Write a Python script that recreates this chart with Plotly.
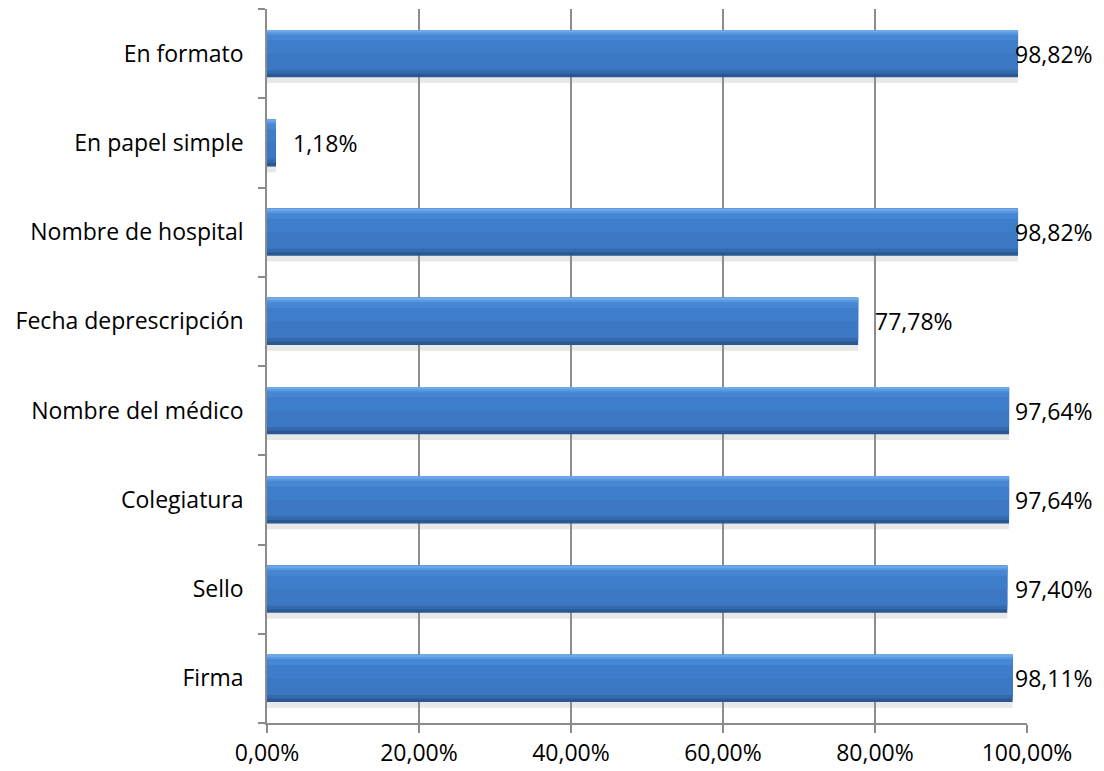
import plotly.graph_objects as go

# Categories listed bottom to top
categories = ["Firma", "Sello", "Colegiatura", "Nombre del médico",
              "Fecha deprescripción", "Nombre de hospital",
              "En papel simple", "En formato"]
values = [98.11, 97.40, 97.64, 97.64, 77.78, 98.82, 1.18, 98.82]
x_ticks = [0, 20, 40, 60, 80, 100]
x_tick_labels = ["0,00%", "20,00%", "40,00%", "60,00%", "80,00%", "100,00%"]

FONT = "Open Sans"
GRID = "#8c8c8c"

fig = go.Figure()

# Layered bars give the bevelled, shaded look: (width, offset, colour)
layers = [
    (0.075, -0.33, "rgba(150,150,150,0.22)"),   # soft shadow below
    (0.53, -0.265, "#2a5893"),                  # dark lower edge
    (0.49, -0.225, "#3469ad"),
    (0.45, -0.185, "#3b77c2"),                  # body
    (0.25, 0.0, "#3e7dc9"),
    (0.10, 0.15, "#4687d3"),
    (0.05, 0.215, "#5998e0"),                   # highlight band
    (0.025, 0.24, "#6eaaea"),                   # top edge
]
for w, off, col in layers:
    fig.add_trace(go.Bar(
        y=categories, x=values, orientation="h",
        width=w, offset=off,
        marker=dict(color=col, line=dict(width=0)),
        hoverinfo="skip", showlegend=False,
    ))

# Value labels: just past the bar end, pulled inside the figure when near 100%
annotations = []
for cat, v in zip(categories, values):
    label = f"{v:.2f}%".replace(".", ",")
    if v > 90:
        annotations.append(dict(x=1.0895, xref="paper", y=cat, yref="y",
                                text=label, showarrow=False, xanchor="right",
                                font=dict(family=FONT, size=23, color="black")))
    else:
        annotations.append(dict(x=v, xref="x", y=cat, yref="y", text=label,
                                showarrow=False, xanchor="left", xshift=15,
                                font=dict(family=FONT, size=23, color="black")))

fig.update_layout(
    width=1104, height=771,
    margin=dict(l=267, r=77, t=9, b=48, autoexpand=False),
    paper_bgcolor="white", plot_bgcolor="white",
    barmode="overlay",
    font=dict(family=FONT, size=23, color="black"),
    annotations=annotations,
    xaxis=dict(
        range=[0, 100], tickvals=x_ticks, ticktext=x_tick_labels,
        showgrid=True, gridcolor=GRID, gridwidth=1.5,
        showline=True, linecolor=GRID, linewidth=1.5,
        ticks="outside", ticklen=8, tickcolor=GRID, tickwidth=1.5,
        ticklabelstandoff=1, automargin=False,
        zeroline=False, fixedrange=True,
    ),
    yaxis=dict(
        type="category", categoryorder="array", categoryarray=categories,
        showgrid=False, showline=True, linecolor=GRID, linewidth=1.5,
        ticks="outside", ticklen=7, tickcolor=GRID, tickwidth=1.5,
        tickson="boundaries", ticklabelstandoff=17, automargin=False,
        range=[-0.5, 7.5], fixedrange=True,
    ),
)

fig.write_html("out.html")
